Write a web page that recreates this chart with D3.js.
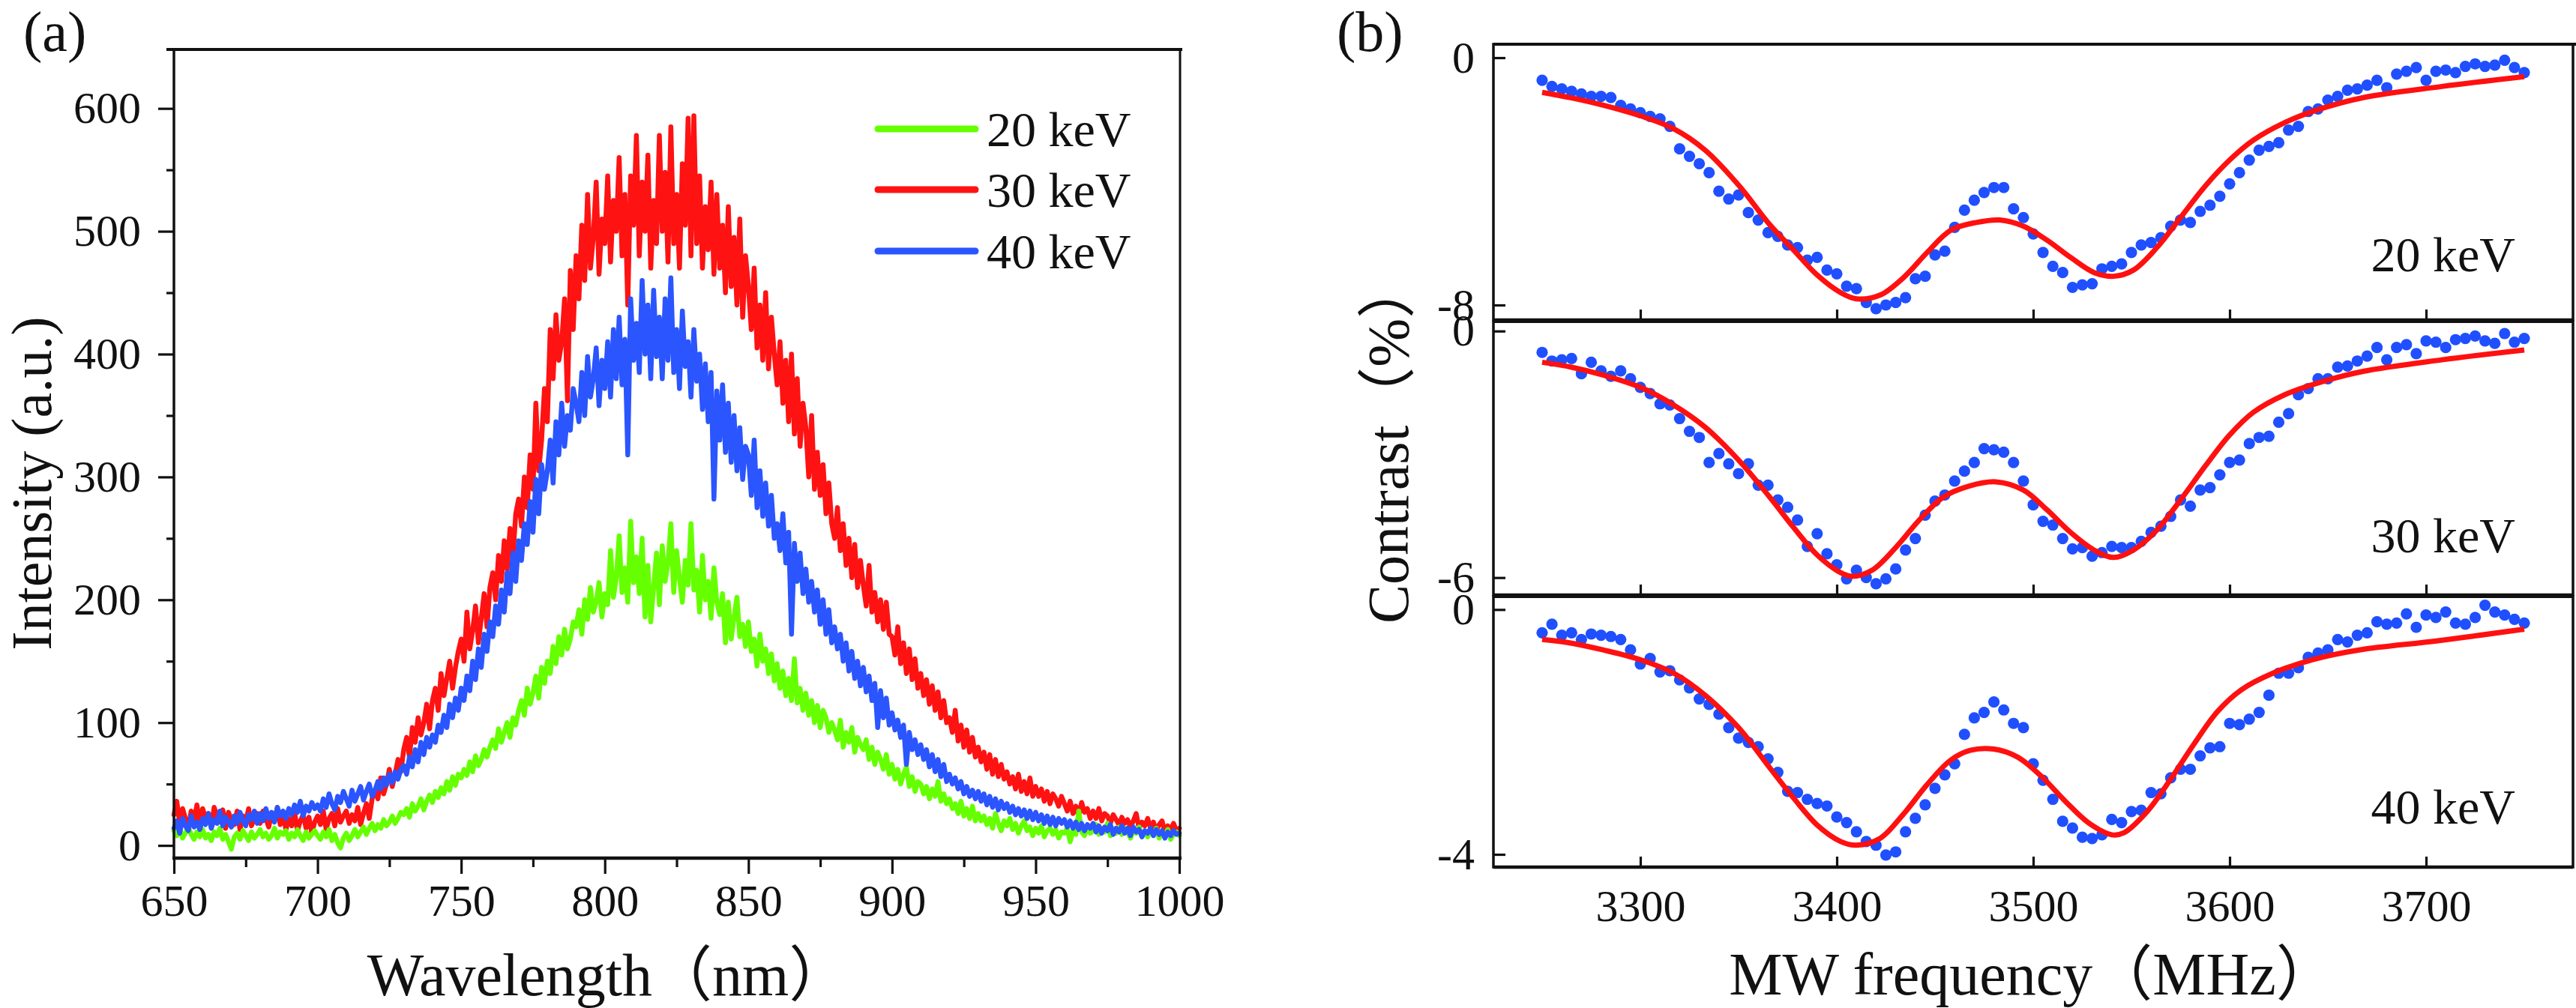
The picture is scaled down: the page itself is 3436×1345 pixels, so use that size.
<!DOCTYPE html>
<html>
<head>
<meta charset="utf-8">
<script src="https://d3js.org/d3.v7.min.js"></script>
<style>
  html, body { margin: 0; padding: 0; background: #fff; }
  svg { display: block; }
  text { font-family: 'Liberation Serif', 'Noto Sans CJK SC', serif; fill: #111; }
</style>
</head>
<body>
<svg id="chart" width="3436" height="1345"></svg>
<script>
// ---------------- Panel (a) data: PL spectra, 650–1000 nm, 1 nm step ----------------
const wavelengths = d3.range(650, 1001, 1);
const seriesNames = ["20 keV", "30 keV", "40 keV"];
const intensity20 = [
  12, 8, 14, 6, 10, 15, 9, 5, 11, 7,
  13, 6, 9, 4, 11, 8, 14, 5, 9, 3,
  -3, 7, 10, 5, 12, 8, 4, 11, 6, 9,
  13, 7, 10, 5, 8, 14, 6, 11, 9, 12,
  5, 10, 7, 13, 8, 4, 11, 6, 9, 12,
  8, 5, 11, 7, 13, 4, 9, 2, -2, 6,
  10, 4, 8, 13, 7, 11, 15, 9, 14, 18,
  12, 17, 14, 21, 16, 19, 24, 18, 22, 27,
  25, 30, 23, 34, 28, 32, 38, 29, 36, 41,
  35, 44, 39, 47, 42, 52, 45, 56, 49, 58,
  55, 62, 57, 68, 60, 73, 65, 70, 78, 72,
  80, 86, 79, 95, 84, 92, 100, 88, 104, 98,
  110, 118, 106, 128, 115, 124, 138, 120, 145, 132,
  150, 140, 162, 148, 170, 155, 176, 160, 168, 182,
  178, 192, 172, 200, 184, 210, 190, 198, 214, 186,
  205, 196, 240, 202, 218, 252, 206, 226, 198, 264,
  214, 235, 205, 250, 186, 228, 182, 210, 238, 196,
  244, 215, 230, 262, 206, 240, 218, 198, 232, 212,
  262, 208, 224, 190, 236, 200, 215, 185, 226, 198,
  188, 205, 165, 198, 168, 186, 202, 170, 180, 162,
  182, 158, 168, 146, 172, 150, 160, 140, 156, 134,
  148, 128, 142, 122, 136, 118, 152, 116, 128, 110,
  124, 106, 118, 100, 114, 96, 110, 104, 92, 100,
  94, 86, 102, 80, 92, 84, 96, 76, 88, 82,
  78, 86, 70, 80, 66, 76, 70, 62, 74, 58,
  66, 54, 62, 50, 58, 64, 48, 56, 44, 52,
  50, 42, 48, 38, 46, 40, 52, 36, 42, 34,
  38, 30, 34, 26, 36, 24, 30, 22, 32, 20,
  26, 20, 24, 17, 22, 14, 26, 18, 12, 20,
  16, 22, 13, 18, 10, 16, 20, 12, 15, 8,
  14, 10, 16, 7, 12, 14, 9, 13, 6, 11,
  10, 14, 3, 12, 9, 28, 11, 8, 15, 10,
  12, 17, 9, 14, 11, 18, 8, 13, 10, 15,
  9, 14, 11, 6, 12, 10, 15, 8, 11, 7,
  12, 9, 14, 6, 10, 8, 13, 5, 9, 11,
  8
];
const intensity30 = [
  25, 36, 18, 30, 22, 14, 28, 20, 33, 17,
  30, 22, 26, 15, 31, 24, 19, 29, 14, 27,
  21, 17, 28, 13, 24, 19, 30, 16, 22, 26,
  18, 28, 22, 15, 26, 20, 31, 17, 24, 13,
  22, 16, 27, 12, 20, 25, 14, 23, 10, 19,
  24, 17, 28, 13, 22, 26, 16, 30, 19, 24,
  28, 18, 25, 20, 31, 17, 26, 34, 22, 38,
  45, 38, 55, 42, 50, 62, 48, 58, 70, 60,
  78, 88, 72, 96, 84, 104, 90, 100, 115, 95,
  118, 128, 110, 140, 122, 136, 150, 128, 145, 158,
  168, 150, 190, 160, 175, 195, 165, 185, 205, 178,
  210, 222, 200, 236, 215, 248, 225, 258, 235, 270,
  282, 260, 300, 275, 318, 290, 360, 305, 330, 372,
  345, 420, 380, 432, 395, 410, 445, 362, 468, 420,
  480, 445, 505, 460, 530, 470, 495, 540, 465, 510,
  490, 545, 475, 525, 500, 560, 480, 530, 440, 545,
  505, 578, 480, 540, 500, 562, 470, 525, 490, 578,
  500, 548, 475, 585, 490, 530, 470, 555, 505, 592,
  480, 594, 490, 545, 470, 520, 485, 540, 465, 530,
  470, 505, 450, 520, 455, 495, 440, 510, 430, 480,
  455, 420, 470, 405, 440, 395, 450, 388, 430, 400,
  375, 410, 360, 395, 345, 400, 335, 380, 325, 360,
  340, 300, 350, 290, 320, 285, 310, 270, 295, 262,
  250, 275, 240, 262, 228, 250, 218, 245, 210, 232,
  212, 195, 228, 190, 206, 182, 200, 176, 198, 172,
  170, 155, 178, 148, 165, 140, 160, 135, 152, 128,
  140, 122, 135, 115, 130, 110, 125, 104, 118, 100,
  104, 92, 110, 85, 98, 80, 94, 76, 88, 72,
  80, 68, 76, 62, 74, 58, 70, 56, 66, 54,
  60, 50, 56, 46, 58, 44, 52, 42, 55, 40,
  48, 40, 46, 36, 44, 34, 42, 38, 32, 40,
  34, 28, 36, 26, 32, 24, 35, 27, 30, 22,
  28, 22, 30, 20, 26, 24, 18, 25, 21, 17,
  23, 18, 21, 15, 20, 26, 14, 19, 16, 22,
  14, 19, 12, 17, 20, 11, 16, 13, 18, 12,
  14
];
const intensity40 = [
  14, 20, 10, 22, 16, 12, 24, 15, 19, 13,
  22, 17, 26, 14, 21, 18, 28, 16, 23, 19,
  15, 24, 18, 27, 20, 16, 25, 21, 28, 18,
  26, 20, 30, 22, 27, 19, 31, 24, 28, 22,
  30, 25, 33, 27, 36, 24, 32, 28, 35, 30,
  33, 28, 38, 31, 42, 34, 29, 40, 35, 44,
  38, 32, 45, 36, 42, 48, 37, 44, 50, 40,
  45, 52, 46, 55, 49, 58, 51, 60, 54, 62,
  65, 58, 72, 64, 78, 68, 84, 74, 88, 80,
  90, 84, 98, 92, 106, 96, 115, 104, 120, 110,
  128, 118, 138, 126, 150, 135, 160, 145, 172, 158,
  182, 170, 195, 180, 208, 190, 222, 205, 238, 215,
  248, 232, 262, 245, 280, 255, 298, 270, 310, 290,
  305, 330, 295, 345, 318, 360, 325, 350, 338, 372,
  360, 345, 385, 350, 398, 365, 380, 405, 358, 395,
  372, 410, 365, 420, 380, 430, 375, 412, 318, 445,
  395, 425, 385, 460, 400, 440, 380, 452, 398, 430,
  380, 445, 395, 462, 385, 420, 372, 435, 390, 410,
  365, 420, 378, 400, 355, 392, 345, 385, 282, 370,
  330, 375, 320, 360, 312, 350, 305, 340, 298, 325,
  318, 285, 330, 275, 305, 268, 295, 260, 285, 250,
  262, 240, 270, 230, 255, 172, 246, 215, 238, 205,
  225, 198, 215, 190, 208, 180, 200, 172, 192, 165,
  178, 160, 172, 150, 165, 142, 158, 136, 150, 130,
  145, 125, 138, 118, 132, 96, 126, 104, 120, 98,
  108, 94, 102, 88, 98, 66, 92, 78, 86, 74,
  82, 70, 78, 64, 74, 60, 70, 56, 66, 52,
  58, 50, 55, 46, 52, 42, 48, 40, 45, 38,
  44, 36, 42, 33, 40, 31, 38, 29, 36, 30,
  34, 27, 32, 25, 30, 24, 29, 22, 28, 21,
  27, 20, 25, 18, 24, 17, 23, 16, 22, 18,
  21, 15, 20, 14, 19, 13, 18, 12, 17, 14,
  18, 11, 16, 10, 15, 12, 17, 9, 14, 11,
  16, 10, 14, 8, 15, 11, 13, 7, 12, 10,
  14, 8, 13, 9, 12, 6, 11, 8, 12, 9,
  10
];
const xTicksA = [650, 700, 750, 800, 850, 900, 950, 1000];
const xMinorA = [675, 725, 775, 825, 875, 925, 975];
const yTicksA = [0, 100, 200, 300, 400, 500, 600];
const yMinorA = [50, 150, 250, 350, 450, 550];

// ---------------- Panel (b) data: ODMR contrast, 3250–3750 MHz, 5 MHz step ----------------
const freqs = d3.range(3250, 3751, 5);
const panelLabels = ["20 keV", "30 keV", "40 keV"];
const contrast20 = [
  -0.73, -0.93, -1.01, -1.09, -1.17, -1.25, -1.25, -1.29, -1.54, -1.66,
  -1.78, -1.90, -1.98, -2.22, -2.95, -3.19, -3.43, -3.72, -4.32, -4.57,
  -4.44, -5.01, -5.25, -5.66, -5.78, -6.06, -6.14, -6.55, -6.46, -6.87,
  -6.99, -7.39, -7.47, -7.92, -8.12, -8.00, -7.92, -7.76, -7.15, -7.07,
  -6.38, -6.26, -5.49, -4.93, -4.61, -4.36, -4.20, -4.20, -4.89, -5.17,
  -5.70, -6.30, -6.75, -6.95, -7.43, -7.35, -7.31, -6.83, -6.75, -6.67,
  -6.30, -6.06, -5.98, -5.82, -5.45, -5.25, -5.33, -4.97, -4.77, -4.48,
  -4.08, -3.72, -3.31, -2.99, -2.87, -2.75, -2.34, -2.22, -1.74, -1.66,
  -1.37, -1.25, -1.05, -1.01, -0.89, -0.73, -0.97, -0.53, -0.44, -0.32,
  -0.73, -0.44, -0.40, -0.48, -0.28, -0.20, -0.28, -0.24, -0.08, -0.32,
  -0.48
];
const contrast30 = [
  -0.52, -0.73, -0.70, -0.67, -1.04, -0.76, -0.97, -1.10, -0.97, -1.16,
  -1.37, -1.52, -1.77, -1.80, -2.13, -2.44, -2.59, -3.20, -2.98, -3.23,
  -3.47, -3.23, -3.75, -3.75, -4.11, -4.29, -4.60, -5.24, -4.93, -5.42,
  -5.69, -6.03, -5.82, -6.00, -6.15, -6.03, -5.79, -5.33, -5.05, -4.48,
  -4.14, -3.99, -3.65, -3.41, -3.20, -2.86, -2.89, -2.95, -3.20, -3.65,
  -4.23, -4.63, -4.72, -5.05, -5.30, -5.27, -5.48, -5.39, -5.24, -5.27,
  -5.27, -5.12, -4.90, -4.75, -4.51, -4.11, -4.26, -3.87, -3.81, -3.50,
  -3.20, -3.14, -2.74, -2.59, -2.56, -2.22, -2.01, -1.55, -1.40, -1.16,
  -1.16, -0.88, -0.85, -0.73, -0.61, -0.40, -0.70, -0.40, -0.33, -0.55,
  -0.24, -0.27, -0.40, -0.21, -0.18, -0.12, -0.24, -0.30, -0.06, -0.27,
  -0.18
];
const contrast40 = [
  -0.38, -0.24, -0.42, -0.38, -0.49, -0.40, -0.42, -0.44, -0.49, -0.66,
  -0.89, -0.80, -1.02, -1.00, -1.15, -1.28, -1.46, -1.55, -1.71, -1.93,
  -2.10, -2.17, -2.24, -2.44, -2.66, -2.97, -2.99, -3.10, -3.17, -3.21,
  -3.39, -3.48, -3.63, -3.79, -3.85, -4.01, -3.96, -3.63, -3.41, -3.19,
  -2.92, -2.70, -2.52, -2.04, -1.77, -1.68, -1.51, -1.64, -1.86, -1.93,
  -2.52, -2.79, -3.10, -3.46, -3.57, -3.72, -3.74, -3.68, -3.43, -3.48,
  -3.30, -3.28, -2.99, -3.01, -2.75, -2.61, -2.61, -2.39, -2.26, -2.24,
  -1.86, -1.88, -1.79, -1.68, -1.40, -1.04, -1.04, -0.95, -0.78, -0.71,
  -0.66, -0.49, -0.53, -0.42, -0.38, -0.20, -0.24, -0.22, -0.07, -0.29,
  -0.09, -0.13, -0.04, -0.22, -0.24, -0.13, 0.07, -0.04, -0.09, -0.16,
  -0.22
];
// Fitted curves
const fitFreq20 = [3250, 3265, 3280, 3300, 3317, 3333, 3350, 3366, 3378, 3390, 3402, 3410, 3422, 3434,
  3446, 3458, 3471, 3483, 3495, 3507, 3519, 3531, 3541, 3551, 3563, 3575, 3588, 3600, 3612, 3628,
  3644, 3668, 3708, 3750];
const fit20 = [-1.12, -1.30, -1.52, -1.88, -2.30, -2.99, -4.12, -5.41, -6.22, -7.03, -7.60, -7.80, -7.68, -7.11,
  -6.30, -5.58, -5.33, -5.25, -5.45, -5.90, -6.46, -6.95, -7.07, -6.87, -6.14, -5.17, -4.12, -3.31, -2.67, -2.10,
  -1.70, -1.29, -0.93, -0.61];
const fitFreq30 = [3250, 3265, 3281, 3300, 3317, 3333, 3350, 3366, 3378, 3390, 3402, 3408, 3418, 3430,
  3442, 3454, 3467, 3481, 3495, 3507, 3519, 3531, 3541, 3551, 3563, 3575, 3588, 3600, 3612, 3628,
  3648, 3668, 3708, 3750];
const fit30 = [-0.76, -0.88, -1.07, -1.37, -1.80, -2.34, -3.14, -4.05, -4.78, -5.45, -5.88, -5.97, -5.82, -5.27,
  -4.60, -4.05, -3.78, -3.67, -3.87, -4.35, -4.90, -5.33, -5.51, -5.33, -4.84, -4.11, -3.26, -2.53, -1.98, -1.55,
  -1.22, -0.98, -0.70, -0.46];
const fitFreq40 = [3250, 3265, 3281, 3300, 3317, 3333, 3350, 3366, 3378, 3390, 3402, 3410, 3422, 3434,
  3446, 3458, 3468, 3480, 3492, 3504, 3516, 3528, 3540, 3546, 3558, 3570, 3582, 3594, 3606, 3622,
  3642, 3666, 3706, 3750];
const fit40 = [-0.49, -0.55, -0.66, -0.82, -1.04, -1.40, -1.93, -2.59, -3.08, -3.52, -3.79, -3.85, -3.74, -3.34,
  -2.86, -2.46, -2.30, -2.28, -2.41, -2.72, -3.12, -3.48, -3.68, -3.65, -3.30, -2.77, -2.19, -1.66, -1.31, -1.04,
  -0.82, -0.66, -0.51, -0.32];
const xTicksB = [3300, 3400, 3500, 3600, 3700];
const yTicksB = [[0, -8], [0, -6], [0, -4]];

// ---------------- drawing ----------------
const svg = d3.select("#chart");
svg.append("rect").attr("width", 3436).attr("height", 1345).attr("fill", "#fff");

const INK = "#111";
function styleAxis(g, fs) {
  g.select(".domain").remove();
  g.selectAll("line").attr("stroke", INK).attr("stroke-width", 3.2);
  g.selectAll("text").attr("font-family", "'Liberation Serif', serif")
    .attr("font-size", fs).attr("fill", INK);
  g.attr("font-family", null).attr("font-size", null);
}

// ===== Panel (a) =====
const A = { l: 232, r: 1574, t: 66, b: 1145 };
const xA = d3.scaleLinear().domain([650, 1000]).range([A.l, 1573]);
const yA = d3.scaleLinear().domain([-10.3, 648]).range([A.b, A.t]);
const gA = svg.append("g");

const colorsA = ["#66ff00", "#ff1212", "#2a55ff"];
const seriesA = [intensity20, intensity30, intensity40];
const lineA = d3.line().x((d, i) => xA(wavelengths[i])).y(d => yA(d));
// draw order: red, green, blue
[1, 0, 2].forEach(k => {
  gA.append("path").datum(seriesA[k]).attr("d", lineA)
    .attr("fill", "none").attr("stroke", colorsA[k]).attr("stroke-width", 6.5)
    .attr("stroke-linejoin", "round").attr("stroke-linecap", "round");
});

// frame
gA.append("line").attr("x1", 222).attr("x2", 1577).attr("y1", A.t).attr("y2", A.t).attr("stroke", INK).attr("stroke-width", 4);
gA.append("line").attr("x1", A.r).attr("x2", A.r).attr("y1", A.t).attr("y2", A.b).attr("stroke", INK).attr("stroke-width", 3);
gA.append("line").attr("x1", A.l).attr("x2", A.l).attr("y1", A.t).attr("y2", A.b + 2).attr("stroke", INK).attr("stroke-width", 3.5);
gA.append("line").attr("x1", A.l - 2).attr("x2", A.r + 2).attr("y1", A.b).attr("y2", A.b).attr("stroke", INK).attr("stroke-width", 4.5);

// axes
gA.append("g").attr("transform", `translate(0,${A.b})`)
  .call(d3.axisBottom(xA).tickValues(xTicksA).tickSize(21).tickPadding(13).tickFormat(d3.format("d")))
  .call(g => styleAxis(g, 60));
gA.append("g").attr("transform", `translate(0,${A.b})`)
  .call(d3.axisBottom(xA).tickValues(xMinorA).tickSize(12).tickFormat(""))
  .call(g => styleAxis(g, 60));
gA.append("g").attr("transform", `translate(${A.l},0)`)
  .call(d3.axisLeft(yA).tickValues(yTicksA).tickSize(21).tickPadding(23).tickFormat(d3.format("d")))
  .call(g => styleAxis(g, 60));
gA.append("g").attr("transform", `translate(${A.l},0)`)
  .call(d3.axisLeft(yA).tickValues(yMinorA).tickSize(10).tickFormat(""))
  .call(g => styleAxis(g, 60));

// legend
const legendRowY = [172, 253, 335];
seriesNames.forEach((name, k) => {
  gA.append("line").attr("x1", 1171).attr("x2", 1301).attr("y1", legendRowY[k]).attr("y2", legendRowY[k])
    .attr("stroke", colorsA[k]).attr("stroke-width", 9).attr("stroke-linecap", "round");
  gA.append("text").attr("x", 1316).attr("y", legendRowY[k] + 23).attr("font-size", 66).text(name);
});

// axis titles
gA.append("text").attr("x", 811).attr("y", 1328).attr("text-anchor", "middle").attr("font-size", 80)
  .text("Wavelength（nm）");
gA.append("text").attr("transform", "translate(68,645) rotate(-90)").attr("text-anchor", "middle")
  .attr("font-size", 76).text("Intensity (a.u.)");
svg.append("text").attr("x", 31).attr("y", 68).attr("font-size", 76).text("(a)");

// ===== Panel (b) =====
const B = { l: 1992, r: 3432 };
const xB = d3.scaleLinear().domain([3225.2, 3774.8]).range([B.l, B.r]);
const panelsB = [
  { t: 59,  b: 427,  dom: [-8.485, 0.436], dots: contrast20, ff: fitFreq20, fit: fit20, labelY: 362 },
  { t: 429, b: 794,  dom: [-6.425, 0.232], dots: contrast30, ff: fitFreq30, fit: fit30, labelY: 737 },
  { t: 796, b: 1157, dom: [-4.208, 0.212], dots: contrast40, ff: fitFreq40, fit: fit40, labelY: 1099 }
];
const gB = svg.append("g");
panelsB.forEach((p, i) => {
  const y = d3.scaleLinear().domain(p.dom).range([p.b, p.t]);
  const g = gB.append("g");
  // dots
  g.selectAll("circle").data(p.dots).join("circle")
    .attr("cx", (d, j) => xB(freqs[j])).attr("cy", d => y(d)).attr("r", 7.6)
    .attr("fill", "#1f4fff");
  // fit
  g.append("path").datum(p.fit)
    .attr("d", d3.line().x((d, j) => xB(p.ff[j])).y(d => y(d)).curve(d3.curveCatmullRom.alpha(0.5)))
    .attr("fill", "none").attr("stroke", "#ff1010").attr("stroke-width", 7);
  // frame
  g.append("rect").attr("x", B.l).attr("y", p.t).attr("width", B.r - B.l).attr("height", p.b - p.t)
    .attr("fill", "none").attr("stroke", INK).attr("stroke-width", 3.5);
  g.append("line").attr("x1", B.l).attr("x2", i === 0 ? 3436 : B.r).attr("y1", p.t).attr("y2", p.t)
    .attr("stroke", INK).attr("stroke-width", 4);
  g.append("line").attr("x1", B.l).attr("x2", B.r).attr("y1", p.b).attr("y2", p.b)
    .attr("stroke", INK).attr("stroke-width", 4.5);
  // axes
  g.append("g").attr("transform", `translate(0,${p.b})`)
    .call(d3.axisBottom(xB).tickValues(xTicksB).tickSizeInner(-14).tickSizeOuter(0).tickPadding(29)
      .tickFormat(i === 2 ? d3.format("d") : () => ""))
    .call(gg => styleAxis(gg, 60));
  g.append("g").attr("transform", `translate(${B.l},0)`)
    .call(d3.axisLeft(y).tickValues(yTicksB[i]).tickSizeInner(-16).tickSizeOuter(0).tickPadding(25)
      .tickFormat(d => String(d)))
    .call(gg => styleAxis(gg, 60));
  // energy label
  g.append("text").attr("x", 3355).attr("y", p.labelY).attr("text-anchor", "end").attr("font-size", 66)
    .text(panelLabels[i]);
});
gB.append("text").attr("x", 2711).attr("y", 1327).attr("text-anchor", "middle").attr("font-size", 80)
  .text("MW frequency（MHz）");
gB.append("text").attr("transform", "translate(1878,832) rotate(-90)").attr("text-anchor", "start")
  .attr("font-size", 78).text("Contrast（%）");
svg.append("text").attr("x", 1783).attr("y", 68).attr("font-size", 76).text("(b)");
</script>
</body>
</html>
